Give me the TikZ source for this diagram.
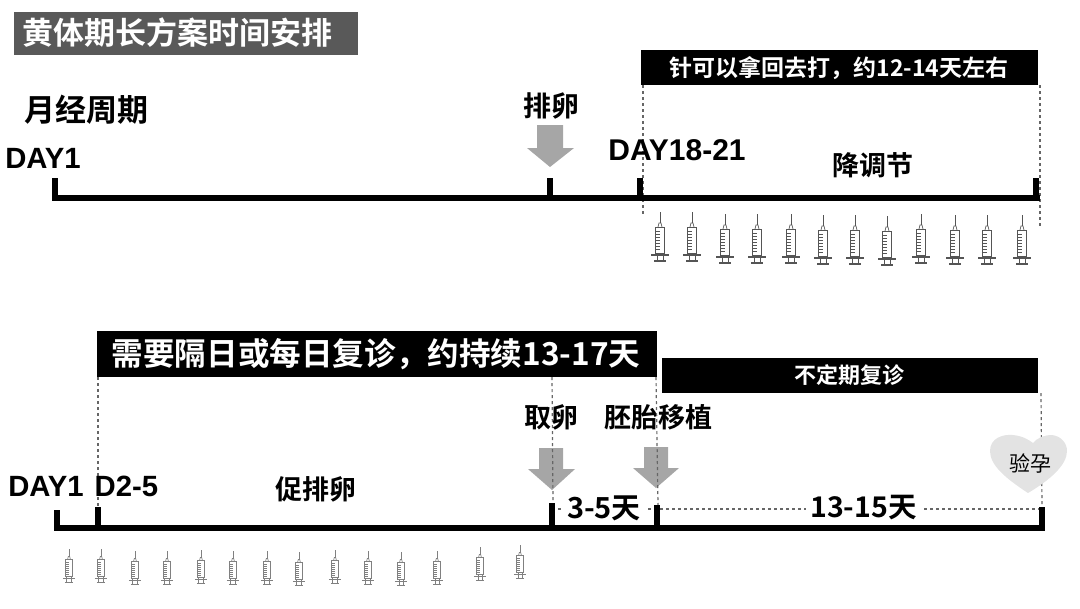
\documentclass[tikz,border=0pt]{standalone}
\usepackage{fontspec}
\setmainfont{Liberation Sans}
\newfontfamily\cjk{Noto Sans CJK SC}[BoldFont={Noto Sans CJK SC Bold}]
\usetikzlibrary{calc}
\definecolor{arrowgrey}{HTML}{A6A6A6}
\definecolor{titlegrey}{HTML}{595959}
\definecolor{heartgrey}{HTML}{E3E3E3}
\definecolor{syr}{HTML}{555555}
\newcommand{\px}[1]{\pgfmathsetlengthmacro\pxsz{#1*0.75}\fontsize{\pxsz}{\pxsz}\selectfont}
\tikzset{
  x=0.75pt,y=-0.75pt,
  axisline/.style={line width=4.5pt,black,line cap=butt},
  ticks/.style={line width=4.5pt,black,line cap=butt},
  guide/.style={line width=0.9pt,draw=black!60,dash pattern=on 2.3pt off 2.2pt},
  barlabel/.style={text=white,font=\cjk\bfseries,inner sep=0pt},
  lab/.style={text=black,font=\cjk\bfseries,inner sep=0pt},
  daylab/.style={text=black,font=\bfseries,inner sep=0pt},
  pics/syringe/.style n args={2}{code={
    \begin{scope}[scale=#1,draw=#2,line width=0.5pt]
      \draw (0,0) -- (0,11);
      \draw (-2,15) -- (-1,11) -- (1,11) -- (2,15);
      \draw[line width=0.75pt] (-4.5,15) rectangle (4.5,41);
      \foreach \k in {19,22,...,37} \draw[line width=0.3pt] (-4.5,\k) -- (0,\k);
      \draw[line width=1.1pt] (-9,43) -- (9,43);
      \draw[line width=0.7pt] (-3,41) -- (-3,48) (3,41) -- (3,48);
      \draw[line width=1.1pt] (-6,49) -- (6,49);
    \end{scope}
  }},
}
\begin{document}
\begin{tikzpicture}
\useasboundingbox (0,0) rectangle (1080,608);
% ---------- title
\node[fill=titlegrey,minimum width=344*0.75pt,minimum height=43*0.75pt,inner sep=0pt] (title) at (186,33.5) {};
\node[barlabel,anchor=west,font=\cjk\bfseries\px{31}] (titletext) at (22,33) {黄体期长方案时间安排};
% ---------- upper timeline
\coordinate (u0) at (52,198);
\coordinate (u1) at (1040,198);
\coordinate (t1) at (55,178);  \coordinate (b1) at (55,198);
\coordinate (t2) at (550,178); \coordinate (b2) at (550,198);
\coordinate (t3) at (640,178); \coordinate (b3) at (640,198);
\coordinate (t4) at (1036,178);\coordinate (b4) at (1036,198);
\node[fill=black,minimum width=397*0.75pt,minimum height=35*0.75pt,inner sep=0pt] (barU) at (839.5,67.5) {};
\node[barlabel,font=\cjk\bfseries\px{23}] (barUtext) at (839,68) {针可以拿回去打，约12-14天左右};
\coordinate (g1a) at (643,85); \coordinate (g1b) at (643,215);
\coordinate (g2a) at (1040,85); \coordinate (g2b) at (1040,228);
\draw[guide] (g1a) -- (g1b);
\draw[guide] (g2a) -- (g2b);
\draw[axisline] (u0) -- (u1);
\foreach \n in {1,2,3,4} \draw[ticks] (t\n) -- (b\n);
\node[lab,font=\cjk\bfseries\px{31}] (menses) at (86.5,110) {月经周期};
\node[daylab,font=\bfseries\px{29.3}] (day1u) at (43,158) {DAY1};
\node[lab,font=\cjk\bfseries\px{28}] (ovul) at (551,106) {排卵};
\node[daylab,font=\bfseries\px{30}] (day18) at (677,150) {DAY18-21};
\node[lab,font=\cjk\bfseries\px{27}] (down) at (873,165) {降调节};
\fill[arrowgrey] (537,125) -- (563,125) -- (563,148) -- (574,148) -- (550,167) -- (527,148) -- (537,148) -- cycle;
\foreach \x/\y in {660/212,692/212,725/214,757/214,791/214,823/215,855/215,887/216,921/214,955/215,987/215,1022/215}
  \pic at (\x,\y) {syringe={1}{syr}};
% ---------- lower timeline
\coordinate (l0) at (54,528);
\coordinate (l1) at (1045,528);
\coordinate (s1) at (57,510);  \coordinate (e1) at (57,528);
\coordinate (s2) at (98,507);  \coordinate (e2) at (98,528);
\coordinate (s3) at (552,503); \coordinate (e3) at (552,525);
\coordinate (s4) at (657,505); \coordinate (e4) at (657,528);
\coordinate (s5) at (1042,507);\coordinate (e5) at (1042,528);
\node[fill=black,minimum width=560*0.75pt,minimum height=46*0.75pt,inner sep=0pt] (barL) at (377,354) {};
\node[barlabel,font=\cjk\bfseries\px{31.6}] (barLtext) at (376,354) {需要隔日或每日复诊，约持续13-17天};
\node[fill=black,minimum width=376*0.75pt,minimum height=35*0.75pt,inner sep=0pt] (barR) at (850,375.5) {};
\node[barlabel,font=\cjk\bfseries\px{22}] (barRtext) at (849,375) {不定期复诊};
\coordinate (g3a) at (98,377);  \coordinate (g3b) at (98,507);
\coordinate (g4a) at (552,377); \coordinate (g4b) at (553,503);
\coordinate (g5a) at (656,377); \coordinate (g5b) at (658,505);
\coordinate (g6a) at (1041,393);\coordinate (g6b) at (1042,507);
\coordinate (g7a) at (558,509); \coordinate (g7b) at (1040,509);
\draw[guide] (g3a) -- (g3b);
\draw[guide] (g6a) -- (g6b);
\draw[guide] (g7a) -- (g7b);
\node[lab,font=\cjk\bfseries\px{27}] (retr) at (551,417) {取卵};
\node[lab,font=\cjk\bfseries\px{27}] (transfer) at (658,417) {胚胎移植};
\fill[arrowgrey] (539,448) -- (563,448) -- (563,469) -- (575,469) -- (552,490) -- (528,469) -- (539,469) -- cycle;
\fill[arrowgrey] (644,447) -- (668,447) -- (668,468) -- (679,468) -- (656,488) -- (633,468) -- (644,468) -- cycle;
\draw[guide] (g4a) -- (g4b);
\draw[guide] (g5a) -- (g5b);
\draw[axisline] (l0) -- (l1);
\foreach \n in {1,2,3,4,5} \draw[ticks] (s\n) -- (e\n);
\node[daylab,font=\bfseries\px{29.3}] (day1l) at (46,486) {DAY1};
\node[daylab,font=\bfseries\px{29.3}] (d25) at (126.5,486) {D2-5};
\node[lab,font=\cjk\bfseries\px{27}] (stim) at (315.5,489) {促排卵};
\node[lab,fill=white,inner xsep=3pt,font=\cjk\bfseries\px{29}] (days35) at (604,508) {3-5天};
\node[lab,fill=white,inner xsep=3pt,font=\cjk\bfseries\px{28.5}] (days1315) at (863.5,508) {13-15天};
\fill[heartgrey] (1028,493) .. controls (1005,478) and (990,465) .. (990,451)
  .. controls (990,438) and (1003,434) .. (1013,435)
  .. controls (1023,436) and (1029,440) .. (1033,443)
  .. controls (1037,438) and (1044,435) .. (1052,435)
  .. controls (1061,436) and (1067,443) .. (1067,451)
  .. controls (1067,465) and (1050,480) .. (1028,493) -- cycle;
\node[lab,font=\cjk\px{21}] (hcg) at (1030,463) {验孕};
\foreach \x/\y in {69/549,101/549,135/551,167/551,201/550,233/551,267/551,299/552,335/550,368/551,401/552,437/551,480/547,520/545}
  \pic at (\x,\y) {syringe={0.68}{syr!75}};
\end{tikzpicture}
\end{document}
